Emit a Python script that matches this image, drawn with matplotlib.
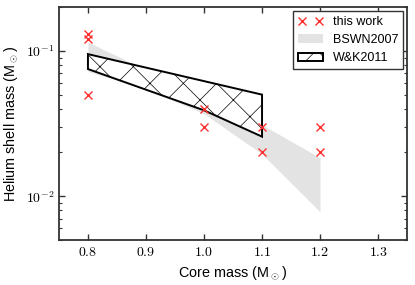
import numpy as np
import matplotlib
matplotlib.use("Agg")
import matplotlib.pyplot as plt
from matplotlib.patches import Polygon
from matplotlib.ticker import FuncFormatter, LogLocator

plt.rcParams['font.family'] = ['Liberation Sans', 'DejaVu Sans']
plt.rcParams['mathtext.fontset'] = 'cm'
plt.rcParams['hatch.linewidth'] = 0.5

# this work
core_this = [0.8, 0.8, 0.8, 1.0, 1.0, 1.1, 1.1, 1.2, 1.2]
shell_this = [0.13, 0.12, 0.05, 0.04, 0.03, 0.03, 0.02, 0.03, 0.02]

# BSWN2007 band
core_bswn = [0.8, 0.9, 1.0, 1.1, 1.2]
bswn_upper = [0.115, 0.074, 0.048, 0.031, 0.0184]
bswn_lower = [0.072, 0.055, 0.037, 0.0195, 0.0078]

# W&K2011 region
core_wk_top = [0.8, 1.1]
wk_top = [0.095, 0.05]
core_wk_bot = [1.1, 1.0, 0.8]
wk_bot = [0.0257, 0.039, 0.075]

fig = plt.figure(figsize=(4.15, 2.85), dpi=100)
ax = fig.add_axes([0.142, 0.158, 0.839, 0.817])

ax.fill_between(core_bswn, bswn_lower, bswn_upper, color='#e3e3e3', lw=0,
                label='BSWN2007')

verts = list(zip(core_wk_top, wk_top)) + list(zip(core_wk_bot, wk_bot))
poly = Polygon(verts, closed=True, facecolor='white', edgecolor='black',
               hatch='x', lw=1.4, label='W&K2011', zorder=2)
ax.add_patch(poly)

ax.plot(core_this, shell_this, 'x', color='#ff3030', ms=6, mew=1.0,
        label='this work', zorder=3)

ax.set_yscale('log')
ax.set_xlim(0.75, 1.35)
ax.set_ylim(0.005, 0.2)
ax.set_xticks([0.8, 0.9, 1.0, 1.1, 1.2, 1.3])
ax.xaxis.set_major_formatter(FuncFormatter(lambda v, p: r'$%.1f$' % v))
ax.yaxis.set_major_locator(LogLocator(base=10))
ax.yaxis.set_major_formatter(FuncFormatter(lambda v, p: r'$10^{%d}$' % round(np.log10(v))))

ax.tick_params(which='both', direction='in', top=True, right=True,
               color='#333333', labelsize=10)
ax.tick_params(which='major', length=4, width=1)
ax.tick_params(which='minor', length=2.5, width=0.8)
for s in ax.spines.values():
    s.set_color('#333333')
    s.set_linewidth(1.3)

ax.set_xlabel(r'Core mass (M$_\odot$)', fontsize=10.4)
ax.set_ylabel(r'Helium shell mass (M$_\odot$)', fontsize=10.4)

h, l = ax.get_legend_handles_labels()
order = [2, 0, 1]
leg = ax.legend([h[i] for i in order], [l[i] for i in order], loc='upper right',
                numpoints=2, fontsize=9, fancybox=False, framealpha=1,
                edgecolor='#333333', borderaxespad=0.3)
leg.get_frame().set_linewidth(1.0)

fig.savefig('out.png', dpi=100)
